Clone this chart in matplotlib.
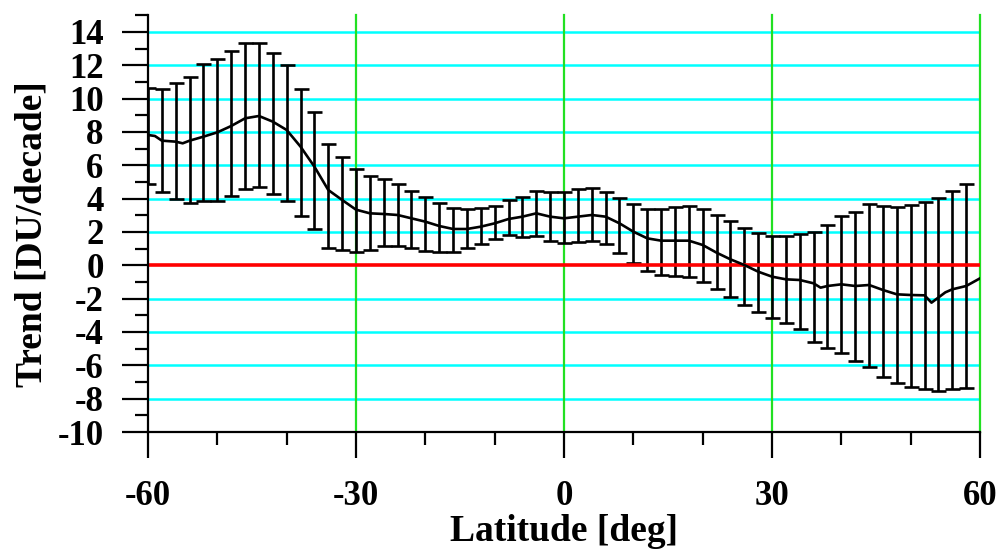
import numpy as np
import matplotlib.pyplot as plt

# error bar latitudes (every 2 deg, -60 .. 58) with upper / lower ends
bar_lat = np.arange(-60, 60, 2)
bar_hi = [10.62, 10.56, 10.96, 11.28, 12.06, 12.36, 12.86, 13.32, 13.36, 12.72,
          12.02, 10.56, 9.22, 7.28, 6.50, 5.80, 5.38, 5.18, 4.86, 4.46,
          4.08, 3.72, 3.42, 3.36, 3.42, 3.56, 3.92, 4.12, 4.48, 4.42,
          4.40, 4.56, 4.62, 4.42, 4.02, 3.66, 3.38, 3.38, 3.48, 3.56,
          3.38, 3.02, 2.66, 2.22, 1.92, 1.74, 1.76, 1.88, 2.02, 2.42,
          2.98, 3.22, 3.66, 3.56, 3.52, 3.62, 3.78, 4.02, 4.46, 4.86]
bar_lo = [4.88, 4.38, 3.98, 3.72, 3.86, 3.88, 4.18, 4.58, 4.68, 4.28,
          3.86, 2.96, 2.16, 1.02, 0.92, 0.80, 0.92, 1.16, 1.16, 1.06,
          0.86, 0.78, 0.78, 1.06, 1.28, 1.58, 1.82, 1.72, 1.78, 1.46,
          1.32, 1.38, 1.48, 1.26, 0.72, 0.12, -0.34, -0.58, -0.64, -0.72,
          -0.98, -1.44, -1.88, -2.38, -2.78, -3.14, -3.44, -3.84, -4.58, -4.98,
          -5.28, -5.74, -6.08, -6.68, -7.08, -7.32, -7.42, -7.52, -7.44, -7.38]

# trend curve
line_lat = [-60, -59, -58, -56, -55, -54, -52, -50, -48, -46, -44, -42, -40, -38,
            -36, -34, -32, -30, -28, -26, -24, -22, -20, -18, -16, -14, -12, -10,
            -8, -6, -4, -2, 0, 2, 4, 6, 8, 10, 12, 14, 16, 18, 20, 22, 24, 26,
            28, 30, 32, 34, 36, 37, 38, 40, 42, 44, 46, 48, 50, 52, 53, 55, 56,
            58, 60]
line_val = [7.82, 7.76, 7.48, 7.42, 7.32, 7.48, 7.72, 7.98, 8.36, 8.82, 8.96, 8.62,
            8.12, 7.12, 5.92, 4.52, 3.92, 3.34, 3.12, 3.08, 3.02, 2.82, 2.62, 2.36,
            2.18, 2.18, 2.32, 2.52, 2.78, 2.92, 3.12, 2.92, 2.82, 2.92, 3.02, 2.92,
            2.52, 2.02, 1.62, 1.48, 1.48, 1.48, 1.22, 0.76, 0.36, 0.02, -0.38,
            -0.68, -0.84, -0.88, -1.08, -1.34, -1.24, -1.14, -1.24, -1.18, -1.48,
            -1.74, -1.78, -1.80, -2.24, -1.62, -1.44, -1.24, -0.78]

y_ticks = list(range(-10, 15, 2))
x_ticks = [-60, -30, 0, 30, 60]
cyan_levels = [-8, -6, -4, -2, 2, 4, 6, 8, 10, 12, 14]
green_lats = [-30, 0, 30, 60]

plt.rcParams['font.family'] = 'Liberation Serif'
plt.rcParams['font.weight'] = 'bold'
plt.rcParams['axes.unicode_minus'] = False

fig = plt.figure(figsize=(9.98, 5.53), dpi=100)
ax = fig.add_axes([0.1483, 0.2188, 0.8337, 0.7535])

for yv in cyan_levels:
    ax.axhline(yv, color='#00ffff', lw=1.8, zorder=1)
for xv in green_lats:
    ax.axvline(xv, color='#22e022', lw=1.6, zorder=1, clip_on=False)

# error bars (symmetric round the middle)
hi = np.array(bar_hi)
lo = np.array(bar_lo)
mid = (hi + lo) / 2
ax.errorbar(bar_lat, mid, yerr=(hi - lo) / 2, fmt='none', ecolor='black',
            elinewidth=1.9, capsize=5.4, capthick=1.9, zorder=2)

ax.axhline(0, color='red', lw=2.6, zorder=3)
ax.plot(line_lat, line_val, color='black', lw=1.9, zorder=4)

ax.set_xlim(-60, 60)
ax.set_ylim(-10, 15)
ax.set_xticks(x_ticks)
ax.set_xticks([-50, -40, -20, -10, 10, 20, 40, 50], minor=True)
ax.set_yticks(y_ticks)
ax.set_yticks(list(range(-9, 16, 2)), minor=True)

for s in ['top', 'right']:
    ax.spines[s].set_visible(False)
for s in ['left', 'bottom']:
    ax.spines[s].set_linewidth(1.6)
    ax.spines[s].set_zorder(5)

ax.tick_params(which='major', direction='out', length=19, width=1.6,
               labelsize=25, pad=13)
ax.tick_params(which='minor', direction='out', length=9.5, width=1.6)
ax.tick_params(axis='x', which='major', pad=15.5)

ax.set_xlabel('Latitude [deg]', fontsize=27, fontweight='bold')
ax.set_ylabel('Trend [DU/decade]', fontsize=27, fontweight='bold')
ax.xaxis.set_label_coords(0.5, -0.197)
ax.yaxis.set_label_coords(-0.118, 0.476)

fig.savefig('out.png', dpi=100)
